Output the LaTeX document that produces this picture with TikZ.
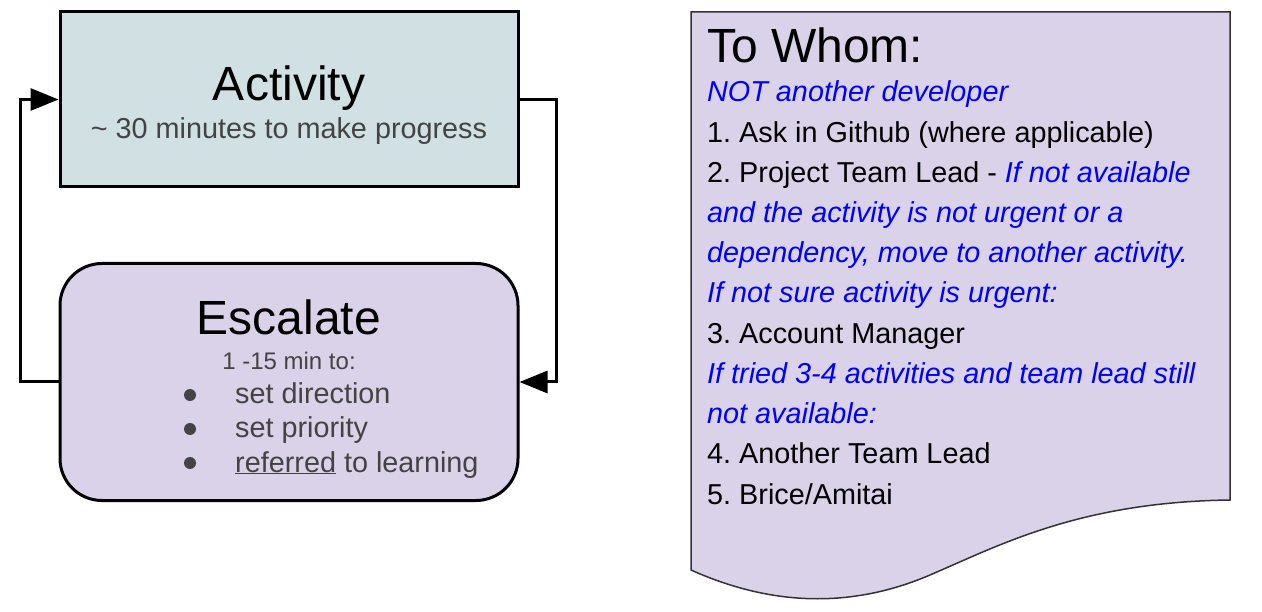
\documentclass[tikz,border=0pt]{standalone}
\usepackage{fontspec}
\setmainfont{Liberation Sans}
\usetikzlibrary{arrows.meta}
\definecolor{actfill}{HTML}{D0E0E3}
\definecolor{escfill}{HTML}{D9D2E9}
\definecolor{subgray}{HTML}{434343}
\definecolor{docblue}{HTML}{0000FF}
\definecolor{docline}{HTML}{333333}
\frenchspacing
\begin{document}
\frenchspacing
\begin{tikzpicture}[x=1pt,y=-1pt,
  boxstyle/.style={draw=black, line width=3pt, minimum width=458pt, inner sep=0pt},
  conn/.style={draw=black, line width=3pt, -{Triangle[length=28pt,width=22pt]}},
  bigtext/.style={anchor=base, inner sep=0pt, font=\fontsize{48}{48}\selectfont},
  subtext/.style={anchor=base, inner sep=0pt, text=subgray, font=\fontsize{28.8}{30}\selectfont},
  smalltext/.style={anchor=base, inner sep=0pt, text=subgray, font=\fontsize{24}{25}\selectfont},
  itemtext/.style={anchor=base west, inner sep=0pt, text=subgray, font=\fontsize{28.8}{30}\selectfont},
  bulletdot/.style={circle, fill=subgray, minimum size=12pt, inner sep=0pt},
  doctext/.style={anchor=base west, inner sep=0pt, text=black, font=\fontsize{28.8}{30}\selectfont},
  docblue/.style={doctext, text=docblue, font=\fontsize{28.8}{30}\selectfont\itshape},
]
\useasboundingbox (0,0) rectangle (1262,612);

% Activity box
\node[boxstyle, fill=actfill, minimum height=175pt] (act) at (289,99.5) {};
\node[bigtext] (acttitle) at (289,101) {Activity};
\node[subtext] (actsub) at (289,139) {\textasciitilde{} 30 minutes to make progress};

% Escalate box
\node[boxstyle, fill=escfill, minimum height=237pt, rounded corners=42pt] (esc) at (289,382) {};
\node[bigtext] (esctitle) at (289,335) {Escalate};
\node[smalltext] (escsub) at (289,370) {1 -15 min to:};
\node[bulletdot] (b1) at (190,395) {};
\node[itemtext] (i1) at (235,404) {set direction};
\node[bulletdot] (b2) at (190,429) {};
\node[itemtext] (i2) at (235,438) {set priority};
\node[bulletdot] (b3) at (190,463) {};
\node[itemtext] (i3) at (235,472) {\underline{referred} to learning};

% connectors
\draw[conn] (esc.west) -- ++(-38,0) |- (act.west);
\draw[conn] (act.east) -- ++(37,0) |- (esc.east);

% Document shape
\draw[draw=docline, line width=1.5pt, fill=escfill]
  (691,12) -- (1230,12) -- (1230,500)
  .. controls (1080,502) and (1000,545) .. (930,575)
  .. controls (860,605) and (780,610) .. (691,570) -- cycle;

\node[doctext, font=\fontsize{48}{48}\selectfont] (dtitle) at (707,63) {To Whom:};
\node[docblue] (d1) at (707,102) {NOT another developer};
\node[doctext] (d2) at (707,142.2) {1. Ask in Github (where applicable)};
\node[doctext] (d3) at (707,182.4) {2. Project Team Lead - \textcolor{docblue}{\itshape If not available}};
\node[docblue] (d4) at (707,222.6) {and the activity is not urgent or a};
\node[docblue] (d5) at (707,262.8) {dependency, move to another activity.};
\node[docblue] (d6) at (707,303) {If not sure activity is urgent:};
\node[doctext] (d7) at (707,343.2) {3. Account Manager};
\node[docblue] (d8) at (707,383.4) {If tried 3-4 activities and team lead still};
\node[docblue] (d9) at (707,423.6) {not available:};
\node[doctext] (d10) at (707,463.8) {4. Another Team Lead};
\node[doctext] (d11) at (707,504) {5. Brice/Amitai};
\end{tikzpicture}
\end{document}
